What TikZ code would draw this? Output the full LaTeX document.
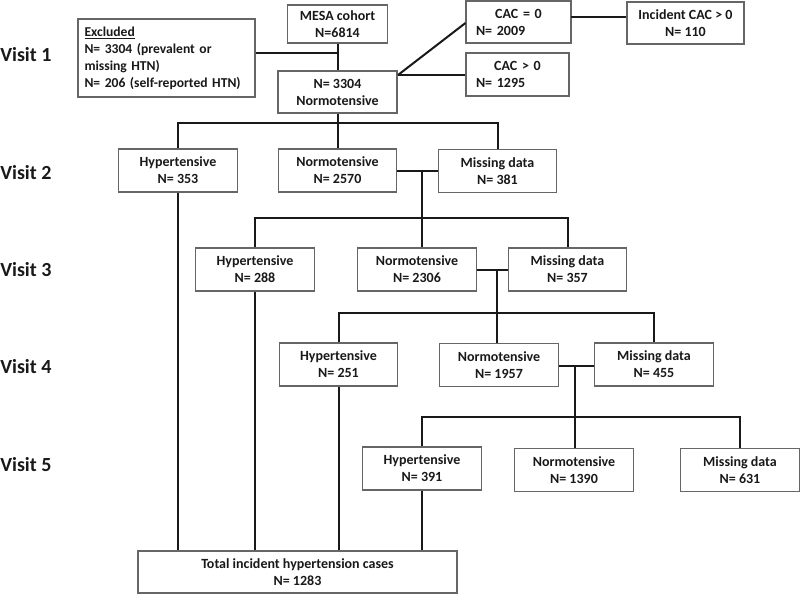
\documentclass[tikz,border=0pt]{standalone}
\usepackage{fontspec}
\setmainfont{Carlito}
\begin{document}
\begin{tikzpicture}[x=0.75pt,y=-0.75pt,
  box/.style={draw=black!60, line width=0.8pt, fill=white, align=center,
    font=\fontsize{10.5}{12.75}\selectfont\bfseries, text=black!90,
    inner sep=2pt, minimum width=89pt, minimum height=32.25pt},
  visit/.style={anchor=west, inner sep=0pt, font=\fontsize{15}{18}\selectfont\bfseries, text=black!90},
  conn/.style={line width=1.5pt, black!90}]
\useasboundingbox (0,0) rectangle (800,594);

% visit labels
\node[visit] (v1) at (0,55) {Visit 1};
\node[visit] (v2) at (0,173) {Visit 2};
\node[visit] (v3) at (0,270) {Visit 3};
\node[visit] (v4) at (0,367) {Visit 4};
\node[visit] (v5) at (0,465) {Visit 5};

% visit 1
\node[box, minimum width=132.75pt, minimum height=58.5pt, text width=123pt, align=left, inner xsep=4.8pt,
  font=\fontsize{10.2}{12.75}\selectfont\bfseries]
  (excl) at (166.5,58) {\underline{Excluded}\\N= 3304 (prevalent or\\missing HTN)\\\mbox{N= 206 (self-reported HTN)}};
\node[box, minimum width=75pt, minimum height=28.5pt] (mesa) at (337.5,24) {MESA cohort\\N=6814};
\node[box, minimum width=89.25pt, minimum height=31.5pt] (n3304) at (337.5,92) {N= 3304\\Normotensive};
\node[box, minimum width=78.75pt, minimum height=31.5pt, text width=63.75pt, inner xsep=7.5pt, align=left]
  (cac0) at (518.5,22) {{\centering CAC = 0\par}\raggedright N= 2009};
\node[box, minimum width=87.75pt, minimum height=31.5pt] (inc) at (685.5,23) {Incident CAC > 0\\N= 110};
\node[box, minimum width=77.25pt, minimum height=32.25pt, text width=62.25pt, inner xsep=7.5pt, align=left]
  (cacp) at (517.5,74.5) {{\centering CAC > 0\par}\raggedright N= 1295};

% visit 2
\node[box] (h2) at (178,170.5) {Hypertensive\\N= 353};
\node[box] (n2) at (337.5,170.5) {Normotensive\\N= 2570};
\node[box] (m2) at (497.5,171) {Missing data\\N= 381};
% visit 3
\node[box] (h3) at (255,269.5) {Hypertensive\\N= 288};
\node[box] (n3) at (417,269.5) {Normotensive\\N= 2306};
\node[box] (m3) at (567.5,269.5) {Missing data\\N= 357};
% visit 4
\node[box] (h4) at (338.5,364.5) {Hypertensive\\N= 251};
\node[box] (n4) at (499,365) {Normotensive\\N= 1957};
\node[box] (m4) at (654,364.5) {Missing data\\N= 455};
% visit 5
\node[box] (h5) at (422,468.5) {Hypertensive\\N= 391};
\node[box] (n5) at (574,470) {Normotensive\\N= 1390};
\node[box] (m5) at (740,470) {Missing data\\N= 631};
% total
\node[box, minimum width=239.25pt, minimum height=31.5pt] (total) at (297.5,572) {Total incident hypertension cases\\N= 1283};

% coordinates
\coordinate (j0) at (337.5,53);
\coordinate (a) at (398,75);
\coordinate (c17) at (571,17);
\coordinate (b1) at (337.5,123);
\coordinate (j2) at (422,171);
\coordinate (b2) at (422,218);
\coordinate (j3) at (497,270);
\coordinate (b3) at (497,313);
\coordinate (j4) at (575,366);
\coordinate (b4) at (575,417);

% visit 1 connectors
\draw[conn] (excl.east |- j0) -- (j0);
\draw[conn] (mesa.south) -- (n3304.north);
\draw[conn] (a) -- (cacp.west |- a);
\draw[conn] (a) -- (cac0.west |- 0,23);
\draw[conn] (c17) -- (c17 -| inc.west);

% to visit 2
\draw[conn] (n3304.south) -- (b1);
\draw[conn] (h2.north) |- (b1) -| (m2.north);
\draw[conn] (b1) -- (n2.north);

% to visit 3
\draw[conn] (n2.east |- j2) -- (m2.west |- j2);
\draw[conn] (j2) -- (b2);
\draw[conn] (h3.north) |- (b2) -| (m3.north);
\draw[conn] (b2) -- (b2 |- n3.north);

% to visit 4
\draw[conn] (n3.east |- j3) -- (m3.west |- j3);
\draw[conn] (j3) -- (b3);
\draw[conn] (h4.north) |- (b3) -| (m4.north);
\draw[conn] (b3) -- (b3 |- n4.north);

% to visit 5
\draw[conn] (n4.east |- j4) -- (m4.west |- j4);
\draw[conn] (j4) -- (b4);
\draw[conn] (h5.north) |- (b4) -| (m5.north);
\draw[conn] (b4) -- (b4 |- n5.north);

% to total
\draw[conn] (h2.south) -- (h2.south |- total.north);
\draw[conn] (h3.south) -- (h3.south |- total.north);
\draw[conn] (h4.south) -- (h4.south |- total.north);
\draw[conn] (h5.south) -- (h5.south |- total.north);
\end{tikzpicture}
\end{document}
